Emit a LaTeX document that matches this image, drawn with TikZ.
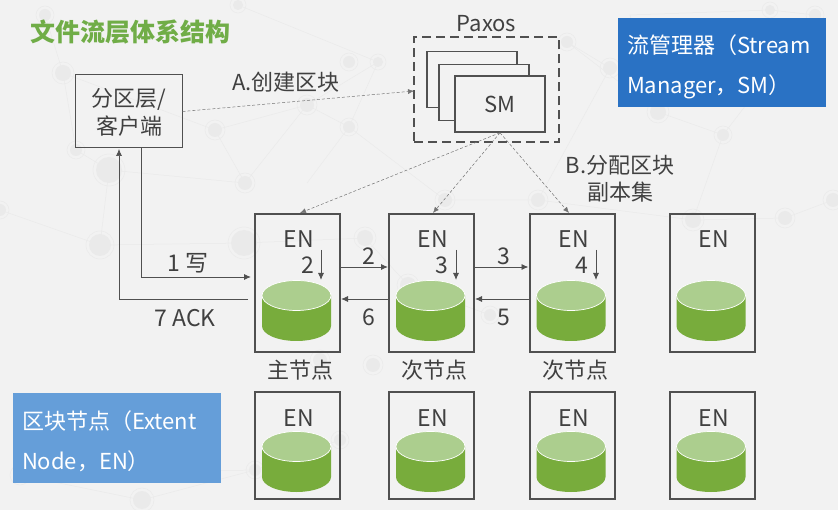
\documentclass[tikz,border=0pt]{standalone}
\usepackage{fontspec}
\setmainfont{Noto Sans CJK SC}
\usetikzlibrary{positioning,calc,arrows.meta}
\definecolor{bggray}{HTML}{F2F2F2}
\definecolor{netgray}{HTML}{EAEAEA}
\definecolor{inkgray}{HTML}{404040}
\definecolor{linegray}{HTML}{505050}
\definecolor{diskdark}{HTML}{78AC3C}
\definecolor{disklight}{HTML}{ACCE8E}
\definecolor{titlegreen}{HTML}{70AD47}
\definecolor{smblue}{HTML}{2A72C4}
\definecolor{enblue}{HTML}{659ED9}

\begin{document}
\begin{tikzpicture}
        [x=1pt,y=-1pt,
        every node/.style={text=inkgray,font=\fontsize{23}{26}\selectfont,inner sep=0pt},
        enbox/.style={draw=linegray,line width=2pt,minimum width=85pt},
        smbox/.style={draw=linegray,line width=1.5pt,fill=bggray,minimum width=90pt,minimum height=56pt},
        bluebox/.style={text=white,align=left,text width=190pt,minimum width=208pt,minimum height=89pt,
            inner xsep=9pt,font=\fontsize{22}{40}\selectfont},
        cjklabel/.style={font=\fontsize{22}{25}\selectfont},
        solidline/.style={draw=linegray,line width=0.9pt,-{Latex[length=7pt,width=6pt]}},
        dotline/.style={draw=linegray!80,line width=0.5pt,densely dashed,-{Latex[length=6pt,width=5pt]}},
        disk/.pic={
            \fill[diskdark] (-34.5,0) -- (-34.5,30.5) arc[start angle=180,end angle=0,x radius=34.5,y radius=15]
                -- (34.5,0) -- cycle;
            \draw[white,line width=0.7pt,fill=disklight] (0,0) ellipse[x radius=34.5,y radius=15];
        }]
        % background
        \useasboundingbox (0,0) rectangle (838,510);
        \fill[bggray] (0,0) rectangle (838,510);
        \draw[netgray,line width=0.5pt]
            (45,15) -- (63,73) -- (76,150) -- (109,170) -- (100,245) -- (0,210)
            (63,73) -- (215,130) -- (245,183) -- (307,105) -- (349,127) -- (307,183)
            (238,5) -- (378,62) -- (349,127) -- (445,200) -- (538,200) -- (610,68) -- (567,42)
            (109,170) -- (245,183) (215,130) -- (307,105) -- (378,62)
            (100,245) -- (244,243) -- (365,238) -- (408,285)
            (658,112) -- (723,135) -- (693,220) -- (785,218) -- (833,200)
            (567,42) -- (658,112) -- (630,15) -- (770,10) -- (815,15) -- (723,135)
            (538,200) -- (693,220) (142,500) -- (20,475) -- (255,470) -- (142,500)
            (340,440) -- (255,470) (490,315) -- (408,285);
        \foreach \px/\py/\pr in {45/15/6,63/73/8,76/150/6,109/170/13,215/130/7,245/183/7,
            307/105/7,349/62/6,238/5/5,378/62/5,349/127/6,100/245/11,0/210/6,567/42/6,
            610/68/7,658/112/8,723/135/6,770/10/5,815/15/6,833/200/7,785/218/7,693/220/8,
            538/200/7,445/200/7,244/243/13,365/238/8,408/285/8,490/315/6,320/360/7,373/365/7,
            142/500/9,20/475/7,340/440/6,255/470/6}{
            \fill[netgray] (\px,\py) circle[radius=\pr];
            \draw[netgray,line width=0.5pt] (\px,\py) circle[radius=\pr+3];
        }
        % title and legend
        \node[anchor=west,text=titlegreen,font=\fontsize{25}{28}\selectfont\bfseries] (title) at (30,32) {文件流层体系结构};
        \node[bluebox,fill=smblue] (smlegend) at (722,62.5) {\rule{0pt}{27pt}流管理器（Stream\\Manager，SM）};
        \node[bluebox,fill=enblue] (enlegend) at (117,438) {\rule{0pt}{25pt}区块节点（Extent\\Node，EN）};
        % client and SM group
        \node[draw=linegray,line width=1pt,minimum width=107pt,minimum height=73pt] (client) at (128.5,111.5) {};
        \node[cjklabel] (clienta) at (129,99) {分区层/};
        \node[cjklabel] (clientb) at (129,126) {客户端};
        \node[draw=linegray,line width=2pt,dash pattern=on 9pt off 5pt,minimum width=145pt,minimum height=105pt] (paxos) at (486.5,90) {};
        \node[above=5pt of paxos,font=\fontsize{22}{25}\selectfont] (paxoslabel) {Paxos};
        \node[smbox] (sma) at (472,79.5) {};
        \node[smbox] (smb) at (484,92.5) {};
        \node[smbox,font=\fontsize{22}{25}\selectfont] (smc) at (500,104) {SM};
        % extent nodes
        \foreach \name/\cx/\ex in {a/297.5/299,b/431.5/433,c/572/574,d/712/714}{
            \node[enbox,minimum height=138pt] (en\name) at (\cx,283) {};
            \node (enlabel\name) at (\ex,239) {EN};
            \pic at (\cx-1,295.5) {disk};
            \node[enbox,minimum height=107pt] (bot\name) at (\cx,445.5) {};
            \node (botlabel\name) at (\ex,418) {EN};
            \pic at (\cx-1,446.5) {disk};
        }
        \node[cjklabel] (rolea) at (300,370) {主节点};
        \node[cjklabel] (roleb) at (434,370) {次节点};
        \node[cjklabel] (rolec) at (575,370) {次节点};
        % steps inside the nodes
        \foreach \name/\num/\tx/\ax in {a/2/308/321,b/3/442/456,c/4/582/596}{
            \node (inner\name) at (\tx,265) {\num};
            \coordinate (innertop\name) at (\ax,250);
            \coordinate (innerend\name) at (\ax,280);
            \draw[solidline] (innertop\name) -- (innerend\name);
        }
        % write path
        \coordinate (writeout) at (141,148);
        \coordinate (writein) at (251,277);
        \coordinate (ackout) at (248,299);
        \coordinate (ackin) at (119,149);
        \draw[solidline] (writeout) |- (writein);
        \draw[solidline,line width=0.7pt] (ackout) -| (ackin);
        \node (writelabel) at (188,263) {1 写};
        \node (acklabel) at (185,318) {7 ACK};
        \draw[solidline] (ena.east |- 0,267) -- (enb.west |- 0,267);
        \draw[solidline] (enb.east |- 0,267) -- (enc.west |- 0,267);
        \draw[solidline] (enb.west |- 0,299) -- (ena.east |- 0,299);
        \draw[solidline] (enc.west |- 0,299) -- (enb.east |- 0,299);
        \node (stepab) at (369,256) {2};
        \node (stepba) at (369,317) {6};
        \node (stepbc) at (504,256) {3};
        \node (stepcb) at (504,317) {5};
        % dotted control lines
        \coordinate (creatend) at (414,91);
        \draw[dotline] (client.east) -- (creatend);
        \draw[dotline] (smc.south) -- (ena.north -| 300,0);
        \draw[dotline] (smc.south) -- (enb.north -| 433,0);
        \draw[dotline] (smc.south) -- (enc.north -| 569,0);
        \node[cjklabel] (createlabel) at (286,82) {A.创建区块};
        \node[cjklabel] (assigna) at (620,165) {B.分配区块};
        \node[cjklabel] (assignb) at (620,192) {副本集};
\end{tikzpicture}
\end{document}
